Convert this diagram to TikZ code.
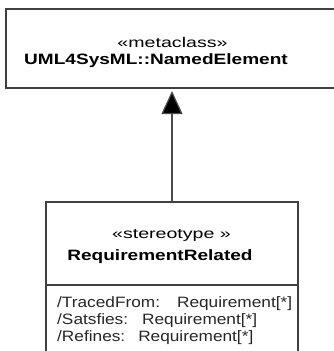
\documentclass[tikz,border=0pt]{standalone}
\usepackage{fontspec}
\setmainfont{Liberation Sans}
\newfontfamily\stereofont[FakeStretch=1.4]{Liberation Sans}
\newfontfamily\namefont[FakeStretch=1.27]{Liberation Sans}
\newfontfamily\attrfont[FakeStretch=1.15]{Liberation Sans}
\usetikzlibrary{arrows.meta}
\begin{document}
\begin{tikzpicture}[x=1pt,y=1pt,
  umlbox/.style={draw=black!75, line width=1.2pt},
  stereo/.style={anchor=base, inner sep=0pt, font=\stereofont\fontsize{14}{16}\selectfont},
  clsname/.style={anchor=base, inner sep=0pt, font=\namefont\bfseries\fontsize{15}{17}\selectfont},
  attr/.style={anchor=base west, inner sep=0pt, font=\attrfont\fontsize{15}{17}\selectfont, text=black!85},
  gen/.style={draw=black!70, line width=1.2pt, -{Triangle[length=23pt,width=21pt,fill=black]}, shorten >=3pt}]
\useasboundingbox (0,0) rectangle (333,-351);
% top class
\draw[umlbox] (6,-9) rectangle (345,-88);
\coordinate (topbot) at (172,-88);
\node[stereo] (mc) at (172.5,-47) {«metaclass»};
\node[clsname] (ne) at (156,-64) {UML4SysML::NamedElement};
% bottom class
\draw[umlbox] (46,-202) rectangle (298,-370);
\draw[umlbox] (46,-285) -- (298,-285);
\coordinate (lowtop) at (172,-202);
\node[stereo] (st) at (171.5,-238) {«stereotype »};
\node[clsname] (rr) at (160,-260) {RequirementRelated};
\node[attr] (a1) at (57,-307) {/TracedFrom:\hspace{17pt}Requirement[*]};
\node[attr] (a2) at (57,-324) {/Satsfies:\hspace{14pt}Requirement[*]};
\node[attr] (a3) at (57,-341) {/Refines:\hspace{13pt}Requirement[*]};
% generalization
\draw[gen] (lowtop) -- (topbot);
\end{tikzpicture}
\end{document}
